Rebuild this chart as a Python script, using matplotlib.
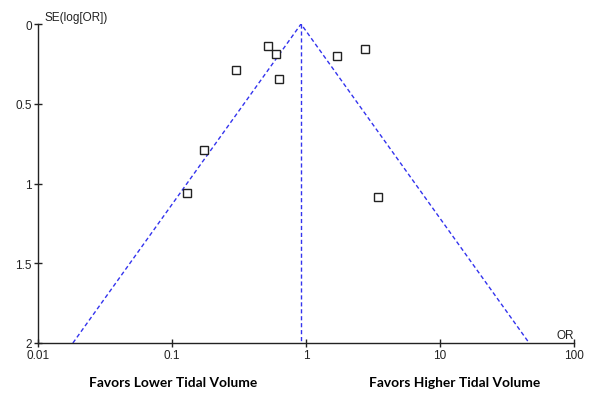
import numpy as np
import matplotlib
matplotlib.use("Agg")
import matplotlib.pyplot as plt

# study estimates
odds_ratio = [0.52, 0.60, 0.30, 0.63, 0.174, 0.129, 1.71, 2.77, 3.45]
se_log_or = [0.138, 0.188, 0.29, 0.343, 0.788, 1.061, 0.199, 0.159, 1.085]
pooled_or = 0.918

x_ticks = [0.01, 0.1, 1, 10, 100]
x_tick_labels = ["0.01", "0.1", "1", "10", "100"]
y_ticks = [0, 0.5, 1, 1.5, 2]
y_tick_labels = ["0", "0.5", "1", "1.5", "2"]

plt.rcParams["font.family"] = ["Liberation Sans", "DejaVu Sans"]

fig = plt.figure(figsize=(6.0, 4.06), dpi=100)
ax = fig.add_axes([38 / 600, 1 - 344 / 406, 536 / 600, 319 / 406])

se_max = 2.0
blue = "#3333ee"
ax.plot([pooled_or * np.exp(-1.96 * se_max), pooled_or, pooled_or * np.exp(1.96 * se_max)],
        [se_max, 0, se_max], color=blue, lw=1.0, ls=(0, (3, 2)), zorder=2)
ax.plot([pooled_or, pooled_or], [0, se_max], color=blue, lw=1.0, ls=(0, (3, 2)), zorder=2)

ax.plot(odds_ratio, se_log_or, ls="none", marker="s", markersize=6.0,
        markerfacecolor="white", markeredgecolor="#222222", markeredgewidth=1.0, zorder=3)

ax.set_xscale("log")
ax.set_xlim(0.01, 100)
ax.set_ylim(2, 0)
ax.set_xticks(x_ticks)
ax.set_xticklabels(x_tick_labels)
ax.xaxis.set_minor_locator(matplotlib.ticker.NullLocator())
ax.set_yticks(y_ticks)
ax.set_yticklabels(y_tick_labels)

for s in ["top", "right"]:
    ax.spines[s].set_visible(False)
for s in ["left", "bottom"]:
    ax.spines[s].set_linewidth(1.0)
    ax.spines[s].set_color("#222222")

ax.tick_params(direction="inout", length=6, width=1.0, labelsize=8.5, pad=1.5, colors="#222222")

ax.text(0.0112, -0.045, "SE(log[OR])", fontsize=8.5, ha="left", va="center", color="#222222")
ax.text(100, 1.95, "OR", fontsize=8.5, ha="right", va="center", color="#222222")

fig.text(173 / 600, 1 - 383 / 406, "Favors Lower Tidal Volume", fontsize=9.9, fontweight="bold",
         ha="center", va="center", family="Lato")
fig.text(455 / 600, 1 - 383 / 406, "Favors Higher Tidal Volume", fontsize=9.9, fontweight="bold",
         ha="center", va="center", family="Lato")

fig.savefig("out.png", dpi=100)
